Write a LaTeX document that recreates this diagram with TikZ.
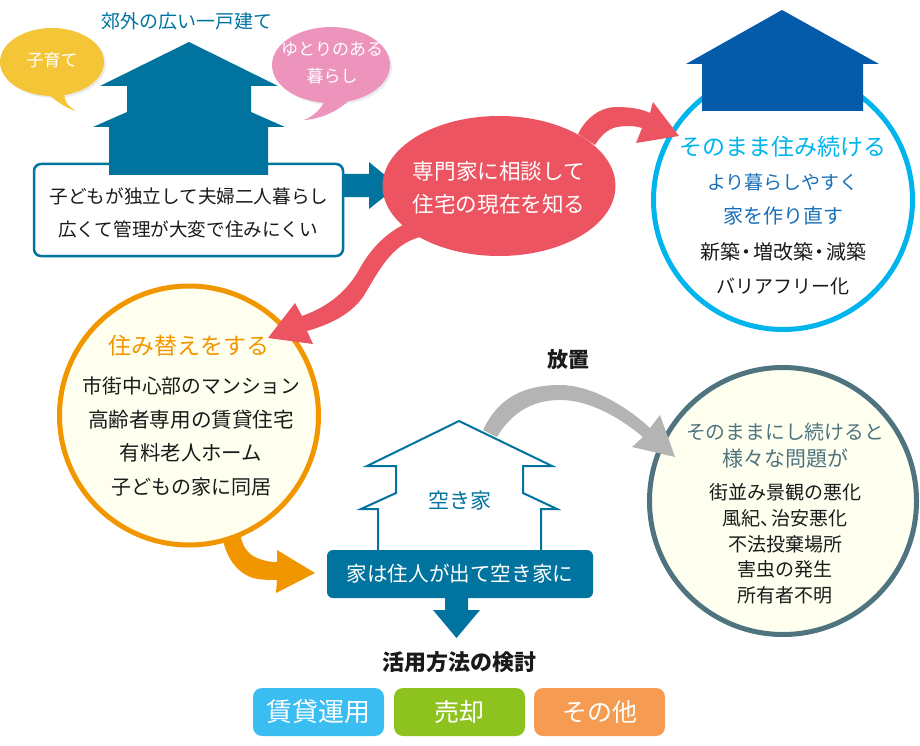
\documentclass[tikz,border=0pt]{standalone}
\usepackage{fontspec}
\setmainfont{Noto Sans CJK JP}
\definecolor{teal}{HTML}{00739F}
\definecolor{redc}{HTML}{EB5460}
\definecolor{bluehouse}{HTML}{035BAA}
\definecolor{cyanc}{HTML}{00B4EE}
\definecolor{midblue}{HTML}{1A70B8}
\definecolor{orangec}{HTML}{F29600}
\definecolor{slatec}{HTML}{4F7480}
\definecolor{cream}{HTML}{FFFFF0}
\definecolor{grayc}{HTML}{B4B4B4}
\definecolor{txt}{HTML}{1A1A1A}
\definecolor{yellowc}{HTML}{F5C538}
\definecolor{pinkc}{HTML}{EC94BC}
\definecolor{btnblue}{HTML}{3ABDF0}
\definecolor{btngreen}{HTML}{8DC21F}
\definecolor{btnorange}{HTML}{F59B52}
\newcommand{\fs}[1]{\fontsize{#1}{#1}\selectfont}
\tikzset{
 lbl/.style={inner sep=0pt,align=center,text=txt},
 wlbl/.style={lbl,text=white},
 bigcircle/.style={circle,line width=5pt,inner sep=0pt,fill=cream},
 btn/.style={rounded corners=9pt,minimum width=131pt,minimum height=48pt,inner sep=0pt,text=white},
}
\begin{document}
\begin{tikzpicture}[x=1pt,y=-1pt]
\useasboundingbox (0,0) rectangle (920,746);
% bubbles
\fill[black!8,shift={(2,2)}] (52,62) ellipse (52 and 34);
\fill[black!8,shift={(2,2)}] (331,65) ellipse (59 and 38);
\fill[yellowc] (52,62) ellipse (52 and 34);
\fill[yellowc] (45,92) .. controls (55,100) and (65,108) .. (76,111) .. controls (66,105) and (62,98) .. (66,88) -- cycle;
\fill[pinkc] (331,65) ellipse (59 and 38);
\fill[pinkc] (325,100) .. controls (322,108) and (314,116) .. (304,120) .. controls (322,119) and (340,110) .. (350,99) -- cycle;
\node[wlbl,font=\fs{17}] (kosodate) at (52,60) {子育て};
\node[wlbl,font=\fontsize{17}{27}\selectfont] (yutori) at (332,63) {ゆとりのある\\暮らし};
\node[lbl,text=teal,font=\fs{19}] (kogai) at (187,21) {郊外の広い一戸建て};
% box and house
\draw[teal,line width=2.5pt,fill=white,rounded corners=7pt] (34,164) rectangle (343,256);
\fill[teal] (189,42) -- (278,86) -- (251,86) -- (251,112) -- (285,127) -- (268,127) -- (268,175) -- (109,175) -- (109,127) -- (93,127) -- (127,112) -- (127,86) -- (100,86) -- cycle;
\node[lbl,font=\fs{18.6}] (dok) at (189,196) {子どもが独立して夫婦二人暮らし};
\node[lbl,font=\fs{18.6}] (hiro) at (188,229) {広くて管理が大変で住みにくい};
\fill[teal] (344,174) -- (369,174) -- (369,162) -- (398,186) -- (369,209) -- (369,197) -- (344,197) -- cycle;
% circles
\node[bigcircle,draw=cyanc,fill=white,minimum size=259pt] (stay) at (783,200) {};
\fill[bluehouse] (782,10) -- (879,64) -- (863,64) -- (863,111) -- (702,111) -- (702,64) -- (686,64) -- cycle;
\node[lbl,text=cyanc,font=\fs{23}] (sono) at (783,147) {そのまま住み続ける};
\node[lbl,text=midblue,font=\fs{19}] (yori) at (783,182) {より暮らしやすく};
\node[lbl,text=midblue,font=\fs{20}] (ie) at (783,216) {家を作り直す};
\node[lbl,font=\fs{20}] (shin) at (783,252) {新築\hspace{-3.5pt}・\hspace{-3.5pt}増改築\hspace{-3.5pt}・\hspace{-3.5pt}減築};
\node[lbl,font=\fs{19}] (bari) at (783,286) {バリアフリー化};
% red
\fill[redc] (499,186) ellipse (116.5 and 70);
\fill[redc] (578,134) .. controls (586,118) and (600,107) .. (617,107) .. controls (630,107) and (642,109) .. (650,113) -- (653,102) -- (679,136) -- (636,143) -- (642,128) .. controls (632,125) and (624,126) .. (617,127) .. controls (607,129) and (600,137) .. (595,145) -- cycle;
\node[wlbl,font=\fontsize{21.6}{33}\selectfont] (senmon) at (499,188) {専門家に相談して\\住宅の現在を知る};
% orange circle
\fill[orangec] (223,540) .. controls (226,555) and (235,572) .. (253,578) .. controls (262,580) and (270,580) .. (277,580) -- (276,593) -- (315,573) -- (277,550) -- (277,562) .. controls (268,562) and (262,560) .. (257,558) .. controls (248,554) and (243,547) .. (241,537) -- cycle;
\node[bigcircle,draw=orangec,minimum size=259pt] (move) at (189,415.5) {};
\fill[redc] (403,225) .. controls (385,234) and (370,250) .. (360,268) .. controls (348,290) and (330,306) .. (302,316) -- (295,303) -- (268,338) -- (313,344) -- (307,331) .. controls (335,323) and (352,312) .. (363,297) .. controls (378,273) and (390,245) .. (420,237) -- cycle;
\node[lbl,text=orangec,font=\fs{23}] (sumi) at (189,346) {住み替えをする};
\node[lbl,font=\fs{19.8}] (shi) at (191.5,386) {市街中心部のマンション};
\node[lbl,font=\fs{20.6}] (kou) at (191,420) {高齢者専用の賃貸住宅};
\node[lbl,font=\fs{20.4}] (yuu) at (191,453) {有料老人ホーム};
\node[lbl,font=\fs{20}] (kodomo) at (191,487) {子どもの家に同居};
% gray circle and arrow
\node[bigcircle,draw=slatec,minimum size=267pt] (prob) at (783,501) {};
\fill[grayc] (483,430) .. controls (495,405) and (515,385) .. (560,385) .. controls (590,385) and (625,405) .. (650,428) -- (660,415) -- (675,457) -- (632,447) -- (643,437) .. controls (620,418) and (590,400) .. (560,400) .. controls (530,400) and (510,415) .. (497,437) -- cycle;
\node[lbl,font=\fs{21}\bfseries] (houchi) at (568,360) {放置};
% empty house
\draw[teal,line width=2pt,fill=white,line join=miter] (378,552) -- (378,509) -- (361,509) -- (396,493) -- (396,466) -- (367,466) -- (459,421) -- (552,466) -- (523,466) -- (523,493) -- (557,509) -- (541,509) -- (541,552);
\node[lbl,text=teal,font=\fs{21}] (akiya) at (460,501) {空き家};
\node[fill=teal,rounded corners=6pt,minimum width=266pt,minimum height=48pt,inner sep=0pt,text=white,font=\fs{20.6}] (live) at (460,574) {家は住人が出て空き家に};
\fill[teal] (445,598) -- (468,598) -- (468,610) -- (480,610) -- (456.5,638) -- (433,610) -- (445,610) -- cycle;
% problems
\node[lbl,text=slatec,font=\fs{19.8}] (keep) at (785,432) {そのままにし続けると};
\node[lbl,text=slatec,font=\fs{21}] (keepb) at (785,458) {様々な問題が};
\node[lbl,font=\fs{19}] (p1) at (785,492) {街並み景観の悪化};
\node[lbl,font=\fs{19}] (p2) at (785,518) {風紀、\hspace{-8pt}治安悪化};
\node[lbl,font=\fs{19}] (p3) at (785,544) {不法投棄場所};
\node[lbl,font=\fs{19}] (p4) at (785,569) {害虫の発生};
\node[lbl,font=\fs{19}] (p5) at (785,595) {所有者不明};
% bottom
\node[lbl,font=\fs{22}\bfseries] (katsu) at (459,662) {活用方法の検討};
\node[btn,fill=btnblue,font=\fs{26}] (b1) at (318.5,712) {賃貸運用};
\node[btn,fill=btngreen,font=\fs{25}] (b2) at (459.5,712) {売却};
\node[btn,fill=btnorange,font=\fs{25}] (b3) at (599.5,712) {その他};
\end{tikzpicture}
\end{document}
